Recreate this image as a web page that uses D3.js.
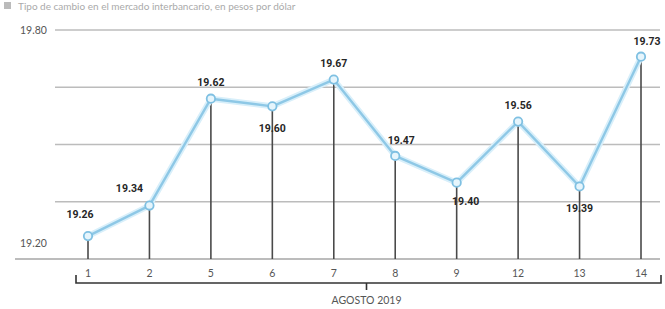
<!DOCTYPE html>
<html lang="es">
<head>
  <meta charset="utf-8">
  <script src="https://d3js.org/d3.v7.min.js"></script>
  <style>
    body { margin: 0; background: #fff; }
    svg { display: block; font-family: "Lato", sans-serif; }
    .grid line { stroke: #bcbcbc; stroke-width: 1.6; }
    .drop { stroke: #4a4a4a; stroke-width: 1.6; }
    .val { font-family: "Roboto", sans-serif; font-weight: 700; font-size: 10.5px; fill: #262626; }
    .tick-lbl { font-size: 10.5px; fill: #555; }
  </style>
</head>
<body>
<svg id="chart" width="665" height="309"></svg>
<script>
  // Tipo de cambio, agosto 2019
  const days = ["1", "2", "5", "6", "7", "8", "9", "12", "13", "14"];
  const rates = [19.26, 19.34, 19.62, 19.60, 19.67, 19.47, 19.40, 19.56, 19.39, 19.73];
  const yTicks = [19.20, 19.35, 19.50, 19.65, 19.80];
  const yTickLabels = ["19.20", "19.80"];
  const xTitle = "AGOSTO 2019";

  // where each value label sits relative to its point
  const labelSide = ["upleft", "upleft", "up", "down", "up", "upright", "downright", "up", "down", "upright"];

  const svg = d3.select("#chart");

  const x = d3.scalePoint().domain(days).range([88, 641]);
  const y = d3.scaleLinear().domain([19.2, 19.8]).range([259, 30]);

  // title (cropped in the original, kept small at the top)
  svg.append("rect").attr("x", 4).attr("y", 2).attr("width", 7).attr("height", 7).attr("fill", "#bbb");
  svg.append("text")
    .attr("x", 18).attr("y", 10)
    .attr("font-size", 10).attr("fill", "#aaa")
    .text("Tipo de cambio en el mercado interbancario, en pesos por dólar");

  // horizontal gridlines
  svg.append("g").attr("class", "grid")
    .selectAll("line")
    .data(yTicks)
    .join("line")
    .attr("x1", (d) => (d === 19.2 ? 15 : 55))
    .attr("x2", 660)
    .attr("y1", (d) => y(d))
    .attr("y2", (d) => y(d))
    .style("stroke-width", (d) => (d === 19.2 ? 2.2 : 1.6));

  // y labels
  svg.selectAll(".ylab")
    .data(yTickLabels)
    .join("text")
    .attr("class", "tick-lbl")
    .attr("x", 20)
    .attr("y", (d) => (+d === 19.8 ? y(+d) + 4 : y(+d) - 12))
    .attr("font-size", 9.5)
    .text((d) => d);

  // vertical drop lines
  svg.selectAll(".drop")
    .data(rates)
    .join("line")
    .attr("class", "drop")
    .attr("x1", (d, i) => x(days[i]))
    .attr("x2", (d, i) => x(days[i]))
    .attr("y1", (d) => y(d))
    .attr("y2", y(19.2));

  // day labels
  svg.selectAll(".xlab")
    .data(days)
    .join("text")
    .attr("class", "tick-lbl")
    .attr("x", (d) => x(d))
    .attr("y", 277)
    .attr("text-anchor", "middle")
    .text((d) => d);

  // bracket under the axis
  const bx0 = x(days[0]) - 12, bx1 = x(days[days.length - 1]) + 20;
  const bmid = (bx0 + bx1) / 2 - 2;
  svg.append("path")
    .attr("d", `M${bx0},275 V283 H${bx1} V275 M${bmid},283 V290`)
    .attr("fill", "none").attr("stroke", "#333").attr("stroke-width", 1.6);
  svg.append("text")
    .attr("class", "tick-lbl")
    .attr("x", bmid).attr("y", 304)
    .attr("text-anchor", "middle")
    .attr("font-size", 10)
    .text(xTitle);

  // line
  const line = d3.line().x((d, i) => x(days[i])).y((d) => y(d));
  svg.append("path")
    .datum(rates)
    .attr("d", line)
    .attr("fill", "none")
    .attr("stroke", "#d8effa")
    .attr("stroke-width", 6)
    .attr("stroke-linejoin", "round");
  svg.append("path")
    .datum(rates)
    .attr("d", line)
    .attr("fill", "none")
    .attr("stroke", "#8ec8e6")
    .attr("stroke-width", 2.4)
    .attr("stroke-linejoin", "round");

  // markers
  svg.selectAll(".pt")
    .data(rates)
    .join("circle")
    .attr("cx", (d, i) => x(days[i]))
    .attr("cy", (d) => y(d))
    .attr("r", 4.2)
    .attr("fill", "#e6f5fc")
    .attr("stroke", "#7fc0e2")
    .attr("stroke-width", 1.8);

  // value labels
  const offs = {
    up: [0, -13], down: [0, 26], upleft: [-8, -14],
    upright: [6, -12], downright: [9, 22]
  };
  svg.selectAll(".val")
    .data(rates)
    .join("text")
    .attr("class", "val")
    .attr("text-anchor", "middle")
    .attr("x", (d, i) => x(days[i]) + offs[labelSide[i]][0] - (i === 1 ? 12 : 0))
    .attr("y", (d, i) => y(d) + offs[labelSide[i]][1] - (i === 0 ? 4 : 0))
    .text((d) => d.toFixed(2));
</script>
</body>
</html>
